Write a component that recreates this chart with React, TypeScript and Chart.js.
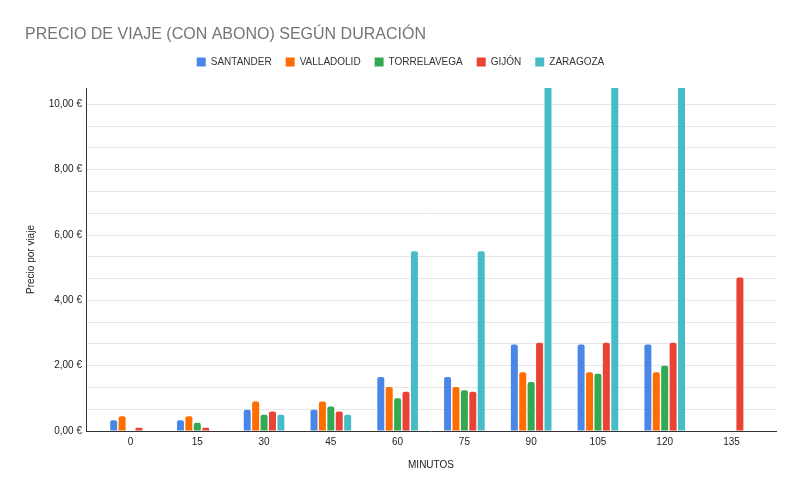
import React, { useEffect, useRef } from "react";
import { Chart, registerables } from "chart.js";

Chart.register(...registerables);

const MINUTES = [0, 15, 30, 45, 60, 75, 90, 105, 120, 135];
const SANTANDER = [0.33, 0.33, 0.65, 0.65, 1.65, 1.65, 2.65, 2.65, 2.65, null];
const VALLADOLID = [0.45, 0.45, 0.9, 0.9, 1.35, 1.35, 1.8, 1.8, 1.8, null];
const TORRELAVEGA = [null, 0.25, 0.5, 0.75, 1.0, 1.25, 1.5, 1.75, 2.0, null];
const GIJON = [0.1, 0.1, 0.6, 0.6, 1.2, 1.2, 2.7, 2.7, 2.7, 4.7];
const ZARAGOZA = [null, null, 0.5, 0.5, 5.5, 5.5, 12, 12, 12, null];

const SERIES_NAMES = ["SANTANDER", "VALLADOLID", "TORRELAVEGA", "GIJÓN", "ZARAGOZA"];
const SERIES_VALUES = [SANTANDER, VALLADOLID, TORRELAVEGA, GIJON, ZARAGOZA];
const SERIES_COLORS = ["#4a86e8", "#ff6d01", "#34a853", "#ea4335", "#46bdc6"];

const Y_TICKS = Array.from({ length: 16 }, (_, k) => (k * 2) / 3);

const FONT = "'Liberation Sans', Arial, sans-serif";

const legendSpacer = {
  id: "legendSpacer",
  afterInit(chart: any) {
    const legend = chart.legend;
    if (!legend) return;
    const origFit = legend.fit;
    legend.fit = function () {
      origFit.call(this);
      this.height += 11;
    };
  },
};

export default function App() {
  const ref = useRef<HTMLCanvasElement>(null);

  useEffect(() => {
    if (!ref.current) return;
    const chart = new Chart(ref.current, {
      type: "bar",
      plugins: [legendSpacer],
      data: {
        datasets: SERIES_NAMES.map((name, i) => ({
          label: name,
          data: MINUTES.map((m, j) => ({ x: m, y: SERIES_VALUES[i][j] })),
          backgroundColor: SERIES_COLORS[i],
          borderRadius: 2,
          categoryPercentage: 0.63,
          barPercentage: 0.83,
        })),
      },
      options: {
        animation: false,
        responsive: false,
        maintainAspectRatio: false,
        layout: { padding: { left: 25, right: 24, top: 0, bottom: 0 } },
        plugins: {
          title: {
            display: true,
            text: "PRECIO DE VIAJE (CON ABONO) SEGÚN DURACIÓN",
            align: "start",
            color: "#757575",
            font: { family: FONT, size: 16, weight: "normal" },
            padding: { top: 25, bottom: -1.2 },
          },
          legend: {
            display: true,
            labels: {
              boxWidth: 9,
              boxHeight: 9,
              padding: 14,
              color: "#333",
              font: { family: FONT, size: 10 },
            },
          },
          tooltip: { enabled: false },
        },
        scales: {
          x: {
            type: "linear",
            min: -10,
            max: 145,
            offset: false,
            afterBuildTicks: (scale: any) => {
              scale.ticks = MINUTES.map((v) => ({ value: v }));
            },
            afterFit: (scale: any) => {
              scale.height = 64;
            },
            ticks: {
              color: "#222",
              font: { family: FONT, size: 10 },
              padding: 5,
              autoSkip: false,
              maxRotation: 0,
              callback: (v: any) => String(v),
            },
            grid: { display: false, drawTicks: false },
            border: { display: true, color: "#333", width: 1 },
            title: {
              display: true,
              text: "MINUTOS",
              color: "#222",
              font: { family: FONT, size: 10 },
              padding: { top: 0, bottom: 24 },
            },
          },
          y: {
            min: 0,
            max: 10.5,
            afterBuildTicks: (scale: any) => {
              scale.ticks = Y_TICKS.map((v) => ({ value: v }));
            },
            afterFit: (scale: any) => {
              scale.width = 61;
            },
            ticks: {
              color: "#222",
              font: { family: FONT, size: 10 },
              padding: 4,
              autoSkip: false,
              callback: (v: any, idx: number) =>
                idx % 3 === 0 ? Number(v).toFixed(2).replace(".", ",") + " €" : "",
            },
            grid: { color: "#e6e6e6", drawTicks: false },
            border: { display: true, color: "#333", width: 1 },
            title: {
              display: true,
              text: "Precio por viaje",
              color: "#222",
              font: { family: FONT, size: 10 },
              padding: { top: 0, bottom: 0 },
            },
          },
        },
      },
    } as any);
    return () => chart.destroy();
  }, []);

  return (
    <div style={{ position: "fixed", left: 0, top: 0, width: 800, height: 495, background: "#fff" }}>
      <canvas ref={ref} width={800} height={495} style={{ width: 800, height: 495 }} />
    </div>
  );
}
